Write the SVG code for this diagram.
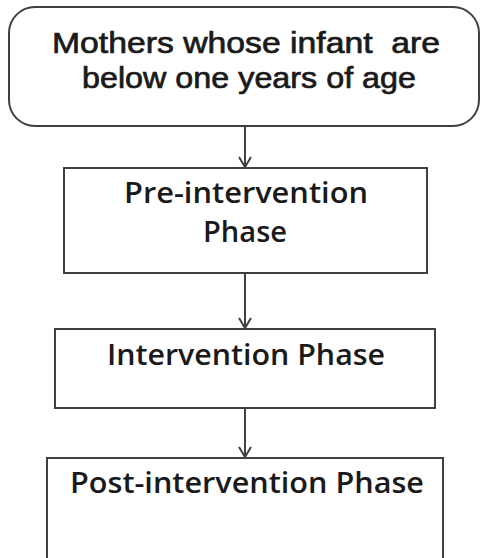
<svg xmlns="http://www.w3.org/2000/svg" width="480" height="558" viewBox="0 0 480 558">
<style>
.box{fill:#fff;stroke:#404040;stroke-width:2}
.t{font-family:"Open Sans","Liberation Sans",sans-serif;fill:#1a1a1a;text-anchor:middle;white-space:pre}
.t1{font-family:"Liberation Sans",Arial,sans-serif;font-size:30px;font-weight:normal;stroke:#1a1a1a;stroke-width:0.7}
.t2{font-size:28px;font-weight:600}
.c{stroke:#404040;stroke-width:2;fill:none}
</style>
<defs>
<marker id="ah" markerWidth="14" markerHeight="14" refX="11" refY="7" orient="auto" markerUnits="userSpaceOnUse">
<path d="M1,1 L11,7 L1,13" fill="none" stroke="#404040" stroke-width="2"/>
</marker>
</defs>
<rect width="480" height="558" fill="#fff"/>
<g id="n1">
<rect class="box" x="9" y="7" width="470" height="119" rx="26" ry="26"/>
<text class="t t1" x="246" y="53" textLength="388" lengthAdjust="spacingAndGlyphs" xml:space="preserve">Mothers whose infant  are</text>
<text class="t t1" x="249" y="88" textLength="334" lengthAdjust="spacingAndGlyphs">below one years of age</text>
</g>
<g id="n2">
<rect class="box" x="64" y="168" width="363" height="105"/>
<text class="t t2" x="246" y="203" textLength="244" lengthAdjust="spacingAndGlyphs">Pre-intervention</text>
<text class="t t2" x="245" y="242" textLength="84" lengthAdjust="spacingAndGlyphs">Phase</text>
</g>
<g id="n3">
<rect class="box" x="55" y="329" width="380" height="79"/>
<text class="t t2" x="246" y="365" textLength="278" lengthAdjust="spacingAndGlyphs">Intervention Phase</text>
</g>
<g id="n4">
<rect class="box" x="47" y="458" width="396" height="110"/>
<text class="t t2" x="247" y="493" textLength="354" lengthAdjust="spacingAndGlyphs">Post-intervention Phase</text>
</g>
<g id="connectors">
<line class="c" x1="245" y1="126" x2="245" y2="167" marker-end="url(#ah)"/>
<line class="c" x1="245" y1="273" x2="245" y2="328" marker-end="url(#ah)"/>
<line class="c" x1="245" y1="408" x2="245" y2="457" marker-end="url(#ah)"/>
</g>
</svg>
